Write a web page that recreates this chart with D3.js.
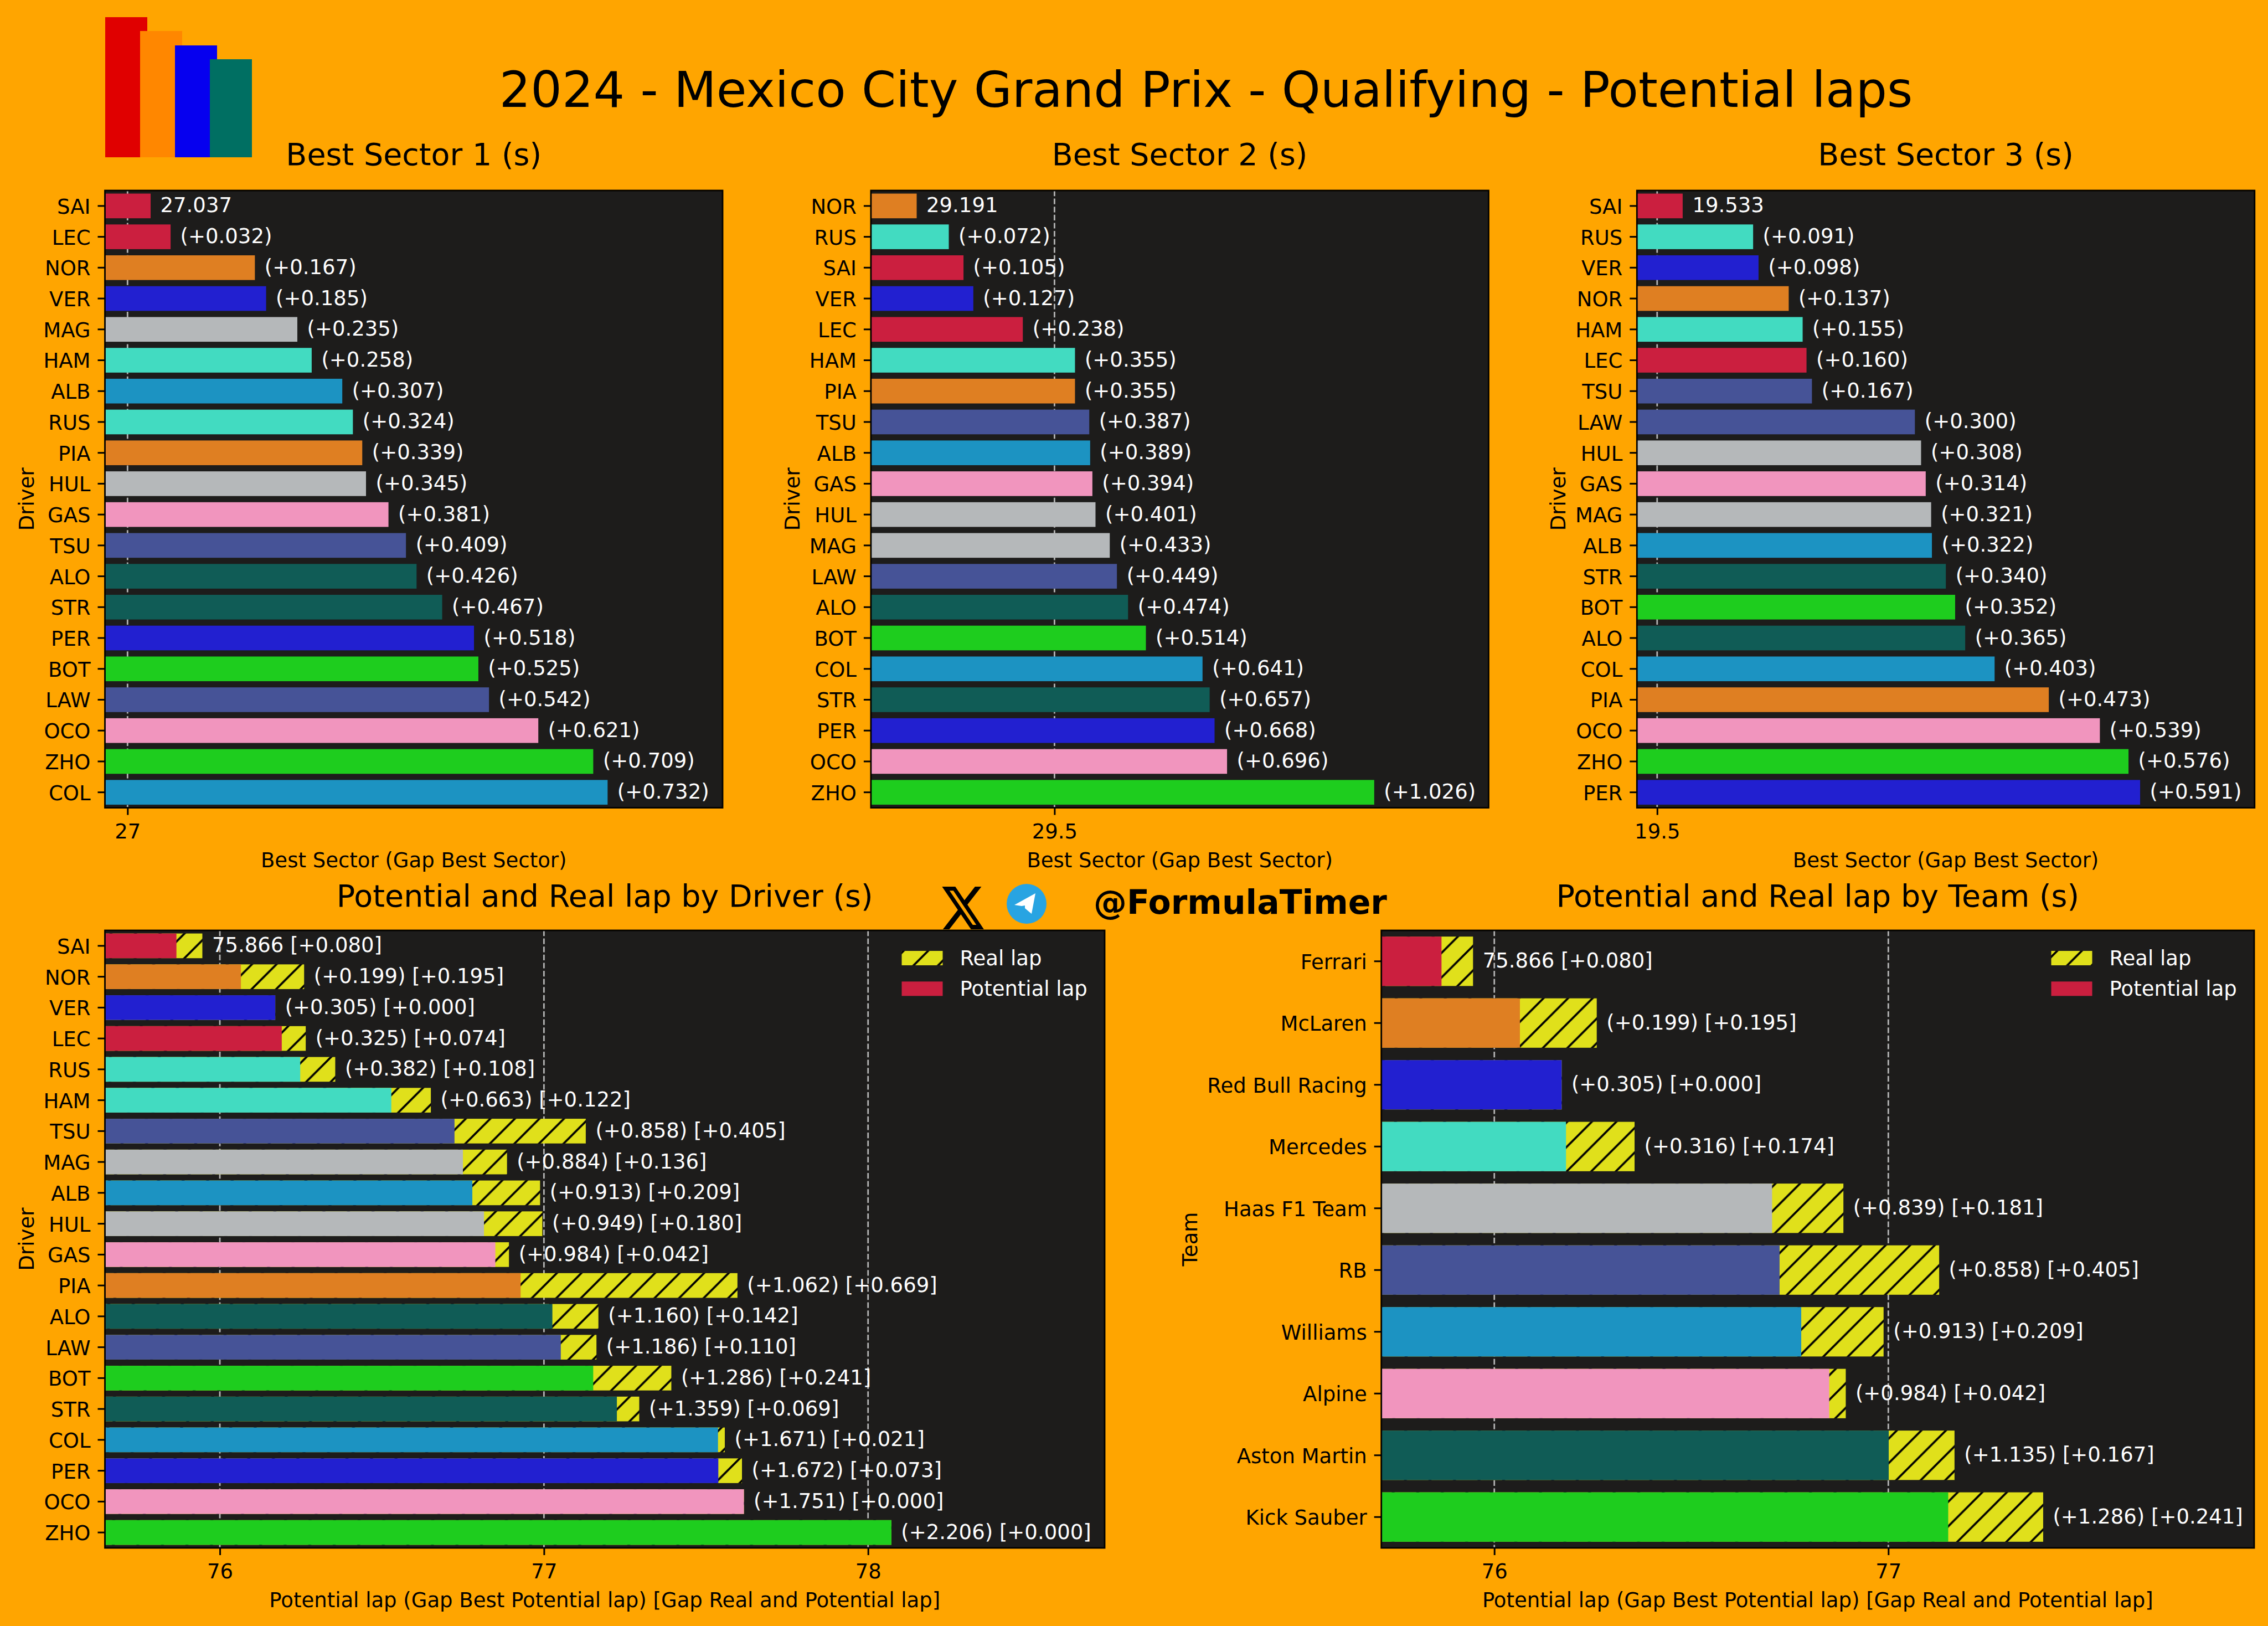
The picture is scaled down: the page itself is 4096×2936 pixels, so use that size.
<!DOCTYPE html>
<html>
<head>
<meta charset="utf-8">
<script src="https://cdn.jsdelivr.net/npm/d3@7"></script>
<style>
  html, body { margin: 0; padding: 0; background: #FFA500; }
  text { font-family: "DejaVu Sans", sans-serif; }
</style>
</head>
<body>
<div id="here"></div>
<script>
var w = 4096, h = 2936;

// best sector tables, gaps in seconds to the fastest driver
var s1Drivers = ['SAI','LEC','NOR','VER','MAG','HAM','ALB','RUS','PIA','HUL','GAS','TSU','ALO','STR','PER','BOT','LAW','OCO','ZHO','COL'];
var s1Gaps = [0,0.032,0.167,0.185,0.235,0.258,0.307,0.324,0.339,0.345,0.381,0.409,0.426,0.467,0.518,0.525,0.542,0.621,0.709,0.732];
var s2Drivers = ['NOR','RUS','SAI','VER','LEC','HAM','PIA','TSU','ALB','GAS','HUL','MAG','LAW','ALO','BOT','COL','STR','PER','OCO','ZHO'];
var s2Gaps = [0,0.072,0.105,0.127,0.238,0.355,0.355,0.387,0.389,0.394,0.401,0.433,0.449,0.474,0.514,0.641,0.657,0.668,0.696,1.026];
var s3Drivers = ['SAI','RUS','VER','NOR','HAM','LEC','TSU','LAW','HUL','GAS','MAG','ALB','STR','BOT','ALO','COL','PIA','OCO','ZHO','PER'];
var s3Gaps = [0,0.091,0.098,0.137,0.155,0.160,0.167,0.300,0.308,0.314,0.321,0.322,0.340,0.352,0.365,0.403,0.473,0.539,0.576,0.591];

// potential laps, [gap to best potential] and [gap real to potential]
var lapDrivers = ['SAI','NOR','VER','LEC','RUS','HAM','TSU','MAG','ALB','HUL','GAS','PIA','ALO','LAW','BOT','STR','COL','PER','OCO','ZHO'];
var lapGaps = [0,0.199,0.305,0.325,0.382,0.663,0.858,0.884,0.913,0.949,0.984,1.062,1.160,1.186,1.286,1.359,1.671,1.672,1.751,2.206];
var lapReal = [0.080,0.195,0,0.074,0.108,0.122,0.405,0.136,0.209,0.180,0.042,0.669,0.142,0.110,0.241,0.069,0.021,0.073,0,0];

var teams = ['Ferrari','McLaren','Red Bull Racing','Mercedes','Haas F1 Team','RB','Williams','Alpine','Aston Martin','Kick Sauber'];
var teamGaps = [0,0.199,0.305,0.316,0.839,0.858,0.913,0.984,1.135,1.286];
var teamReal = [0.080,0.195,0,0.174,0.181,0.405,0.209,0.042,0.167,0.241];
var teamColors = ['#CB1F3F','#DF7F22','#2220D0','#42DBC1','#B5B8BA','#465397','#1C93C2','#F195BE','#105C56','#1ECD1E'];

var driverTeam = {SAI:'Ferrari',LEC:'Ferrari',NOR:'McLaren',PIA:'McLaren',VER:'Red Bull Racing',PER:'Red Bull Racing',
  RUS:'Mercedes',HAM:'Mercedes',MAG:'Haas F1 Team',HUL:'Haas F1 Team',TSU:'RB',LAW:'RB',ALB:'Williams',COL:'Williams',
  GAS:'Alpine',OCO:'Alpine',ALO:'Aston Martin',STR:'Aston Martin',BOT:'Kick Sauber',ZHO:'Kick Sauber'};

var logoHeights = [253,228,202,177];
var logoColors = ['#E00000','#FF8700','#0600EF','#006F62'];

var legendLabels = ['Real lap','Potential lap'];

var bg = '#FFA500', panel = '#1D1C1B', yellow = '#E0E01B', grid = '#B4B4B4';
var P = 44.33, hatchR = 24, tickFont = 37;

var svg = d3.select('#here').append('svg')
  .attr('width', w).attr('height', h)
  .style('display', 'block').style('background', bg);

// hatch, anchored to the page like matplotlib does it
var pat = svg.append('defs').append('pattern')
  .attr('id', 'hatch').attr('patternUnits', 'userSpaceOnUse')
  .attr('width', P).attr('height', P);
pat.append('rect').attr('width', P).attr('height', P).attr('fill', yellow);
pat.append('path')
  .attr('d', 'M-10,' + (hatchR + 10) + 'L' + (hatchR + 10) + ',-10M-10,' + (hatchR + P + 10) + 'L' + (hatchR + P + 10) + ',-10')
  .attr('stroke', 'black').attr('stroke-width', 3.7);

function panelChart(o) {
  var x = d3.scaleLinear().domain(o.xlim).range([o.left, o.right]);
  var y = d3.scaleBand().domain(o.cats).range([o.top, o.bottom]).paddingInner(0.2).paddingOuter(0.1);

  svg.append('rect').attr('x', o.left).attr('y', o.top)
    .attr('width', o.right - o.left).attr('height', o.bottom - o.top).attr('fill', panel);

  svg.append('g').selectAll('line').data(o.ticks).enter().append('line')
    .attr('x1', x).attr('x2', x).attr('y1', o.top).attr('y2', o.bottom)
    .attr('stroke', grid).attr('stroke-width', 2.8).attr('stroke-dasharray', '10.2,4.4');

  if (o.real) {
    svg.append('g').selectAll('rect').data(o.cats).enter().append('rect')
      .attr('x', o.left).attr('y', function(d) { return y(d); })
      .attr('height', y.bandwidth())
      .attr('width', function(d, i) { return x(o.base + o.gaps[i] + o.real[i]) - o.left; })
      .attr('fill', 'url(#hatch)');
  }
  svg.append('g').selectAll('rect').data(o.cats).enter().append('rect')
    .attr('x', o.left).attr('y', function(d) { return y(d); })
    .attr('height', y.bandwidth())
    .attr('width', function(d, i) { return x(o.base + o.gaps[i]) - o.left; })
    .attr('fill', function(d) { return o.color(d); });

  svg.append('g').selectAll('text').data(o.cats).enter().append('text')
    .attr('x', function(d, i) { return x(o.base + o.gaps[i] + (o.real ? o.real[i] : 0)) + 17.5; })
    .attr('y', function(d) { return y(d) + y.bandwidth() / 2 + 11.5; })
    .attr('fill', 'white').style('font-size', tickFont + 'px')
    .text(function(d, i) {
      var first = i === 0 ? o.base.toFixed(3) : '(+' + o.gaps[i].toFixed(3) + ')';
      return o.real ? first + ' [+' + o.real[i].toFixed(3) + ']' : first;
    });

  var ax = svg.append('g').attr('transform', 'translate(0,' + o.bottom + ')')
    .call(d3.axisBottom(x).tickValues(o.ticks).tickFormat(function(d) { return d; }).tickSize(13).tickPadding(0));
  ax.select('.domain').remove();
  ax.selectAll('line').attr('stroke', 'black').attr('stroke-width', 3);
  ax.selectAll('text').attr('y', 55).attr('dy', 0).attr('fill', 'black').style('font-size', tickFont + 'px');

  var ay = svg.append('g').attr('transform', 'translate(' + o.left + ',0)')
    .call(d3.axisLeft(y).tickSize(13).tickPadding(13));
  ay.select('.domain').remove();
  ay.selectAll('line').attr('stroke', 'black').attr('stroke-width', 3);
  ay.selectAll('text').attr('dy', 14).attr('fill', 'black').style('font-size', tickFont + 'px');

  svg.append('rect').attr('x', o.left).attr('y', o.top)
    .attr('width', o.right - o.left).attr('height', o.bottom - o.top)
    .attr('fill', 'none').attr('stroke', 'black').attr('stroke-width', 2.8);

  var cx = (o.left + o.right) / 2, cy = (o.top + o.bottom) / 2;
  svg.append('text').attr('x', cx).attr('y', o.titleY).attr('text-anchor', 'middle')
    .attr('fill', 'black').style('font-size', '55.5px').text(o.title);
  svg.append('text').attr('x', cx).attr('y', o.bottom + 107).attr('text-anchor', 'middle')
    .attr('fill', 'black').style('font-size', tickFont + 'px').text(o.xlabel);
  svg.append('text').attr('transform', 'translate(' + (o.left - o.ylabelGap) + ',' + cy + ') rotate(-90)')
    .attr('text-anchor', 'middle').attr('fill', 'black').style('font-size', tickFont + 'px').text(o.ylabel);

  if (o.real) {
    var lx = o.right - 366.5;
    legendLabels.forEach(function(l, i) {
      svg.append('rect').attr('x', lx).attr('y', o.top + 37 + i * 55.3).attr('width', 74).attr('height', 26)
        .attr('fill', i === 0 ? 'url(#hatch)' : teamColors[0]);
      svg.append('text').attr('x', lx + 105).attr('y', o.top + 63 + i * 55.3)
        .attr('fill', 'white').style('font-size', tickFont + 'px').text(l);
    });
  }
}

var driverColor = function(d) { return teamColors[teams.indexOf(driverTeam[d])]; };
var teamColor = function(d) { return teamColors[teams.indexOf(d)]; };

var row1 = {top: 344, bottom: 1458.5, xlabel: 'Best Sector (Gap Best Sector)', ylabel: 'Driver', titleY: 298, ylabelGap: 129, color: driverColor};
panelChart(Object.assign({}, row1, {left: 189.5, right: 1305, xlim: [26.9638, 27.9532], ticks: [27], cats: s1Drivers, gaps: s1Gaps, base: 27.037, title: 'Best Sector 1 (s)'}));
panelChart(Object.assign({}, row1, {left: 1572.9, right: 2688.4, xlim: [29.0884, 30.4735], ticks: [29.5], cats: s2Drivers, gaps: s2Gaps, base: 29.191, title: 'Best Sector 2 (s)'}));
panelChart(Object.assign({}, row1, {left: 2956.3, right: 4071.8, xlim: [19.4739, 20.2719], ticks: [19.5], cats: s3Drivers, gaps: s3Gaps, base: 19.533, title: 'Best Sector 3 (s)'}));

var row2 = {top: 1680, bottom: 2795, xlabel: 'Potential lap (Gap Best Potential lap) [Gap Real and Potential lap]', titleY: 1637, base: 75.866};
panelChart(Object.assign({}, row2, {left: 189.5, right: 1995, xlim: [75.6454, 78.73], ticks: [76, 77, 78], cats: lapDrivers, gaps: lapGaps, real: lapReal, ylabel: 'Driver', ylabelGap: 129, color: driverColor, title: 'Potential and Real lap by Driver (s)'}));
panelChart(Object.assign({}, row2, {left: 2494.7, right: 4071, xlim: [75.7133, 77.9285], ticks: [76, 77], cats: teams, gaps: teamGaps, real: teamReal, ylabel: 'Team', ylabelGap: 333, color: teamColor, title: 'Potential and Real lap by Team (s)'}));

// logo: four stepped bars
var logoX = d3.scaleBand().domain(d3.range(logoHeights.length)).range([190, 442]);
var logoY = d3.scaleLinear().domain([0, 253]).range([284, 31]);
svg.append('g').selectAll('rect').data(logoHeights).enter().append('rect')
  .attr('x', function(d, i) { return logoX(i); })
  .attr('y', function(d) { return logoY(d); })
  .attr('width', 76)
  .attr('height', function(d) { return logoY(0) - logoY(d); })
  .attr('fill', function(d, i) { return logoColors[i]; });

svg.append('text').attr('x', 2178).attr('y', 193).attr('text-anchor', 'middle')
  .attr('fill', 'black').style('font-size', '89px')
  .text('2024 - Mexico City Grand Prix - Qualifying - Potential laps');

// X icon
svg.append('path').attr('transform', 'translate(1697,1592) scale(3.5,3.95)')
  .attr('d', 'M18.244 2.25h3.308l-7.227 8.26 8.502 11.24H16.17l-5.214-6.817L4.99 21.75H1.68l7.73-8.835L1.254 2.25H8.08l4.713 6.231zm-1.161 17.52h1.833L7.084 4.126H5.117z')
  .attr('fill', 'black');

// telegram icon
var tg = svg.append('g').attr('transform', 'translate(1854,1632)');
tg.append('circle').attr('r', 36).attr('fill', '#28A4E2');
tg.append('path').attr('d', 'M-22,2L16,-19L9,18L-3,8L-3,3L-9,4Z').attr('fill', 'white');

svg.append('text').attr('x', 1975).attr('y', 1650)
  .attr('fill', 'black').style('font-size', '60px').style('font-weight', 'bold')
  .text('@FormulaTimer');
</script>
</body>
</html>
